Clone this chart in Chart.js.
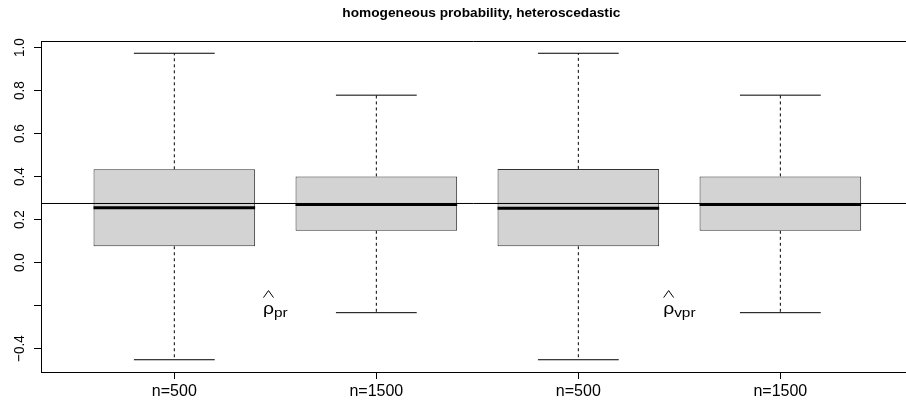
<!DOCTYPE html>
<html>
<head>
<meta charset="utf-8">
<script src="https://cdn.jsdelivr.net/npm/chart.js@4.4.0/dist/chart.umd.min.js"></script>
<style>
    html, body { margin: 0; padding: 0; background: #ffffff; overflow: hidden; }
    #wrap { width: 906px; height: 405px; }
</style>
</head>
<body>
<div id="wrap"><canvas id="boxChart" width="906" height="405"></canvas></div>
<script>
/* Boxplot: homogeneous probability, heteroscedastic */

const categories = ['n=500', 'n=1500', 'n=500', 'n=1500'];
const whiskerLow = [-0.452, -0.233, -0.452, -0.233];
const lowerQuartile = [0.076, 0.148, 0.076, 0.148];
const medians = [0.255, 0.270, 0.253, 0.270];
const upperQuartile = [0.434, 0.401, 0.436, 0.401];
const whiskerHigh = [0.974, 0.779, 0.974, 0.779];
const referenceValue = 0.275;
const yTicks = [-0.4, -0.2, 0.0, 0.2, 0.4, 0.6, 0.8, 1.0];
const yTickLabels = ['-0.4', '', '0.0', '0.2', '0.4', '0.6', '0.8', '1.0'];
const labelX = [1.5, 3.5];
const labelY = [-0.2, -0.2];
const labelSub = ['pr', 'vpr'];
const titleText = 'homogeneous probability, heteroscedastic';

const X_MIN = 0.34;
const X_MAX = 4.622;
const FONT = "'Liberation Sans', Arial, Helvetica, sans-serif";
const BOX_HALF = 0.4;
const CAP_HALF = 0.2;
const STRETCH = 1.14; // R device text is a bit wider than tall

function buildBoxes() {
    return categories.map((c, i) => ({ x: i + 1, y: [lowerQuartile[i], upperQuartile[i]] }));
}

function buildMedians() {
    const pts = [];
    categories.forEach((c, i) => {
        pts.push({ x: i + 1 - BOX_HALF, y: medians[i] });
        pts.push({ x: i + 1 + BOX_HALF, y: medians[i] });
        pts.push({ x: i + 1 + BOX_HALF, y: null });
    });
    return pts;
}

function buildWhiskers() {
    const pts = [];
    categories.forEach((c, i) => {
        pts.push({ x: i + 1, y: upperQuartile[i] });
        pts.push({ x: i + 1, y: whiskerHigh[i] });
        pts.push({ x: i + 1, y: null });
        pts.push({ x: i + 1, y: lowerQuartile[i] });
        pts.push({ x: i + 1, y: whiskerLow[i] });
        pts.push({ x: i + 1, y: null });
    });
    return pts;
}

function buildCaps() {
    const pts = [];
    categories.forEach((c, i) => {
        pts.push({ x: i + 1 - CAP_HALF, y: whiskerHigh[i] });
        pts.push({ x: i + 1 + CAP_HALF, y: whiskerHigh[i] });
        pts.push({ x: i + 1 + CAP_HALF, y: null });
        pts.push({ x: i + 1 - CAP_HALF, y: whiskerLow[i] });
        pts.push({ x: i + 1 + CAP_HALF, y: whiskerLow[i] });
        pts.push({ x: i + 1 + CAP_HALF, y: null });
    });
    return pts;
}

const lineBase = {
    type: 'line',
    borderColor: '#000000',
    borderWidth: 1,
    pointRadius: 0,
    spanGaps: false,
    fill: false,
    tension: 0
};

const extrasPlugin = {
    id: 'extras',
    afterDraw(chart) {
        const ctx = chart.ctx;
        const area = chart.chartArea;
        const xs = chart.scales.x;
        const ys = chart.scales.y;
        ctx.save();

        // top frame line
        ctx.strokeStyle = '#000000';
        ctx.lineWidth = 1;
        ctx.beginPath();
        ctx.moveTo(area.left, Math.round(area.top) + 0.5);
        ctx.lineTo(area.right, Math.round(area.top) + 0.5);
        ctx.stroke();

        // title, centred over the R plot region
        ctx.fillStyle = '#000000';
        ctx.save();
        ctx.translate(xs.getPixelForValue(2.5) + 4, 14);
        ctx.scale(STRETCH, 1);
        ctx.font = `bold 12px ${FONT}`;
        ctx.textAlign = 'center';
        ctx.textBaseline = 'middle';
        ctx.fillText(titleText, 0, 0);
        ctx.restore();

        // y tick labels, rotated like R
        yTicks.forEach((v, i) => {
            if (!yTickLabels[i]) return;
            const py = ys.getPixelForValue(v);
            ctx.save();
            ctx.translate(20, py);
            ctx.rotate(-Math.PI / 2);
            ctx.scale(1, STRETCH);
            ctx.font = `13.5px ${FONT}`;
            ctx.textAlign = 'center';
            ctx.textBaseline = 'middle';
            ctx.fillText(yTickLabels[i].replace('-', '\u2212'), 0, 0);
            ctx.restore();
        });

        // rho-hat estimator labels
        labelX.forEach((lx, i) => {
            const px = xs.getPixelForValue(lx);
            const py = ys.getPixelForValue(labelY[i]);
            ctx.font = `17px ${FONT}`;
            const rw = ctx.measureText('\u03c1').width * STRETCH;
            ctx.font = `13.5px ${FONT}`;
            const sw = ctx.measureText(labelSub[i]).width * STRETCH;
            const left = px - (rw + sw) / 2;
            ctx.textAlign = 'left';
            ctx.textBaseline = 'alphabetic';

            ctx.save();
            ctx.translate(left, py + 8);
            ctx.scale(STRETCH, 1);
            ctx.font = `17px ${FONT}`;
            ctx.fillText('\u03c1', 0, 0);
            ctx.restore();

            ctx.save();
            ctx.translate(left + rw, py + 11);
            ctx.scale(STRETCH, 1);
            ctx.font = `13.5px ${FONT}`;
            ctx.fillText(labelSub[i], 0, 0);
            ctx.restore();

            // hat
            ctx.lineWidth = 1;
            ctx.beginPath();
            ctx.moveTo(left + 0.5, py - 8);
            ctx.lineTo(left + rw / 2, py - 15);
            ctx.lineTo(left + rw - 0.5, py - 8);
            ctx.stroke();
        });
        ctx.restore();
    }
};

new Chart(document.getElementById('boxChart'), {
    type: 'bar',
    data: {
        datasets: [
            {
                ...lineBase,
                label: 'reference',
                data: [{ x: X_MIN, y: referenceValue }, { x: X_MAX, y: referenceValue }],
                order: 1
            },
            {
                ...lineBase,
                label: 'median',
                data: buildMedians(),
                borderWidth: 3,
                borderCapStyle: 'butt',
                order: 0
            },
            {
                type: 'bar',
                label: 'box',
                data: buildBoxes(),
                backgroundColor: '#d3d3d3',
                borderColor: '#333333',
                borderWidth: 1,
                borderSkipped: false,
                barPercentage: 0.8,
                categoryPercentage: 1,
                order: 2
            },
            {
                ...lineBase,
                label: 'whisker',
                data: buildWhiskers(),
                borderDash: [3, 3],
                order: 3
            },
            {
                ...lineBase,
                label: 'cap',
                data: buildCaps(),
                order: 3
            }
        ]
    },
    options: {
        responsive: false,
        animation: false,
        devicePixelRatio: 1,
        layout: { padding: { top: 41, right: 0, left: 0, bottom: 0 } },
        plugins: {
            legend: { display: false },
            tooltip: { enabled: false },
            title: { display: false }
        },
        scales: {
            x: {
                type: 'linear',
                min: X_MIN,
                max: X_MAX,
                offset: false,
                afterBuildTicks: (scale) => { scale.ticks = categories.map((c, i) => ({ value: i + 1 })); },
                afterFit: (scale) => { scale.height = 33; },
                grid: { offset: false, drawOnChartArea: false, drawTicks: true, tickLength: 7, color: '#000000' },
                border: { display: true, color: '#000000', width: 1 },
                ticks: {
                    autoSkip: false,
                    maxRotation: 0,
                    minRotation: 0,
                    padding: 3,
                    color: '#000000',
                    font: { family: FONT, size: 16 },
                    callback: (v) => categories[Math.round(v) - 1] || ''
                }
            },
            y: {
                type: 'linear',
                min: -0.509,
                max: 1.031,
                afterBuildTicks: (scale) => { scale.ticks = yTicks.map(v => ({ value: v })); },
                afterFit: (scale) => { scale.width = 41; },
                grid: { drawOnChartArea: false, drawTicks: true, tickLength: 7, color: '#000000' },
                border: { display: true, color: '#000000', width: 1 },
                ticks: { display: false }
            }
        }
    },
    plugins: [extrasPlugin]
});
</script>
</body>
</html>
